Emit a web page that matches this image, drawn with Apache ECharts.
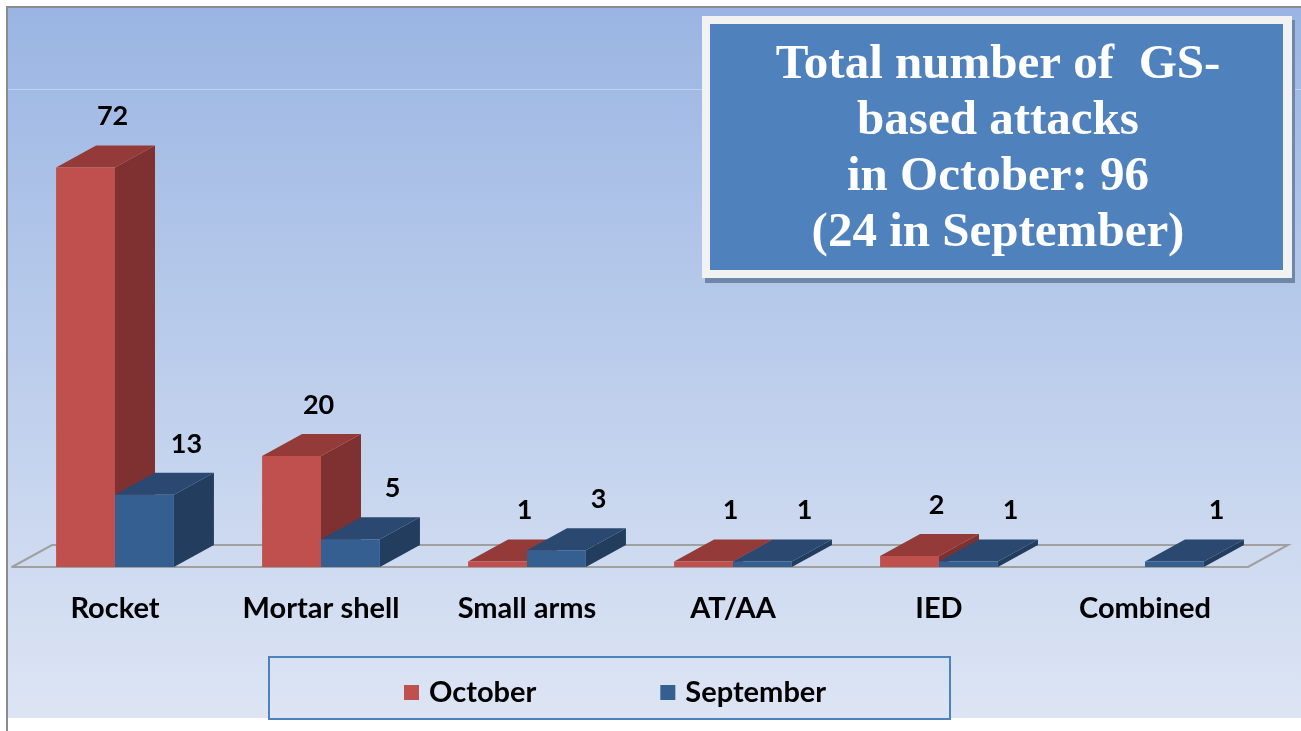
<!DOCTYPE html>
<html>
<head>
<meta charset="utf-8">
<script src="https://cdn.jsdelivr.net/npm/echarts@6/dist/echarts.min.js"></script>
<style>
  html, body { margin: 0; padding: 0; background: #fff; }
  #chart { width: 1301px; height: 731px; }
</style>
</head>
<body>
<div id="chart"></div>
<script>
// data
const categories = ['Rocket', 'Mortar shell', 'Small arms', 'AT/AA', 'IED', 'Combined']
const october = [72, 20, 1, 1, 2, 0]
const september = [13, 5, 3, 1, 1, 1]
const titleLines = ['Total number of  GS-', 'based attacks', 'in October: 96', '(24 in September)']

const DX = 40
const DY = -22

const chart = echarts.init(document.getElementById('chart'))

// draws one pseudo-3d bar: front, side, top + value label
function barRenderer(slot, colors, labelShift) {
  return function (params, api) {
    const cat = api.value(0)
    const v = api.value(1)
    if (!v) return
    const top = api.coord([cat, v])
    const base = api.coord([cat, 0])
    const bw = api.size([1, 0])[0] * 0.286
    const x0 = top[0] - bw + slot * bw
    const x1 = x0 + bw
    const y0 = top[1]
    const y1 = base[1]
    return {
      type: 'group',
      children: [
        { type: 'polygon', shape: { points: [[x1, y1], [x1 + DX, y1 + DY], [x1 + DX, y0 + DY], [x1, y0]] }, style: { fill: colors.side } },
        { type: 'polygon', shape: { points: [[x0, y0], [x0 + DX, y0 + DY], [x1 + DX, y0 + DY], [x1, y0]] }, style: { fill: colors.top } },
        { type: 'rect', shape: { x: x0, y: y0, width: bw, height: y1 - y0 }, style: { fill: colors.front } },
        {
          type: 'text',
          style: {
            text: String(v), x: x0 + bw / 2 + labelShift, y: y0 + DY - 29,
            align: 'center', verticalAlign: 'middle',
            font: 'bold 27px Lato', fill: '#000'
          }
        }
      ]
    }
  }
}

chart.setOption({
  animation: false,
  graphic: [
    {
      type: 'rect', z: -10, silent: true,
      shape: { x: 6, y: 6, width: 1310, height: 712 },
      style: {
        fill: new echarts.graphic.LinearGradient(0, 0, 0, 1, [
          { offset: 0, color: '#9AB5E3' },
          { offset: 1, color: '#DDE5F4' }
        ])
      }
    },
    { type: 'line', z: -9, silent: true, shape: { x1: 6, y1: 7, x2: 1301, y2: 7 }, style: { stroke: '#8C8C8C', lineWidth: 2 } },
    { type: 'line', z: -9, silent: true, shape: { x1: 7, y1: 6, x2: 7, y2: 731 }, style: { stroke: '#8C8C8C', lineWidth: 2 } },
    { type: 'line', z: -9, silent: true, shape: { x1: 8, y1: 89.5, x2: 1301, y2: 89.5 }, style: { stroke: 'rgba(255,255,255,0.35)', lineWidth: 1 } },
    // title box
    { type: 'rect', z: 10, shape: { x: 705, y: 20, width: 590, height: 263 }, style: { fill: '#6F87A8' } },
    { type: 'rect', z: 10, shape: { x: 702, y: 16, width: 590, height: 262 }, style: { fill: '#F2F2F2' } },
    { type: 'rect', z: 10, shape: { x: 710, y: 24, width: 573, height: 246 }, style: { fill: '#4F81BD' } },
    {
      type: 'text', z: 11,
      style: {
        text: titleLines.join('\n'), x: 998, y: 37,
        align: 'center', verticalAlign: 'top', lineHeight: 56,
        font: 'bold 49px "Liberation Serif"', fill: '#fff'
      }
    },
    // legend frame
    { type: 'rect', z: 5, shape: { x: 269, y: 657, width: 681, height: 62 }, style: { fill: 'none', stroke: '#4F81BD', lineWidth: 2 } }
  ],
  grid: { left: 12, right: 53, top: 123, bottom: 164 },
  legend: {
    data: ['October', 'September'],
    left: 399, top: 673,
    icon: 'rect', itemWidth: 15, itemHeight: 15, itemGap: 124,
    textStyle: { fontFamily: 'Lato', fontWeight: 'bold', fontSize: 29, color: '#000', padding: [0, 0, 0, 5] }
  },
  xAxis: {
    type: 'category',
    data: categories,
    axisLine: { lineStyle: { color: '#A0A0A0', width: 2 } },
    axisTick: { length: 10, lineStyle: { color: '#A0A0A0', width: 2 } },
    axisLabel: { margin: 27, fontFamily: 'Lato', fontWeight: 'bold', fontSize: 29, color: '#000' }
  },
  yAxis: { type: 'value', min: 0, max: 80, show: false, splitLine: { show: false } },
  series: [
    {
      type: 'custom', silent: true, z: 1,
      data: [[0]],
      renderItem: function (params) {
        const c = params.coordSys
        const fx = c.x, fy = c.y + c.height, rx = c.x + c.width
        return {
          type: 'polyline',
          shape: { points: [[fx, fy], [fx + DX, fy + DY], [rx + DX, fy + DY], [rx, fy]] },
          style: { stroke: '#A0A0A0', lineWidth: 2, fill: null }
        }
      }
    },
    {
      name: 'October', type: 'custom', z: 2,
      itemStyle: { color: '#C0504D' },
      data: october.map((v, i) => [i, v]),
      renderItem: barRenderer(0, { front: '#C0504D', side: '#7E3130', top: '#943B39' }, 27)
    },
    {
      name: 'September', type: 'custom', z: 3,
      itemStyle: { color: '#355F91' },
      data: september.map((v, i) => [i, v]),
      renderItem: barRenderer(1, { front: '#355F91', side: '#223D5E', top: '#2B4870' }, 42)
    }
  ]
})

window.addEventListener('resize', () => { chart.resize() })
</script>
</body>
</html>
